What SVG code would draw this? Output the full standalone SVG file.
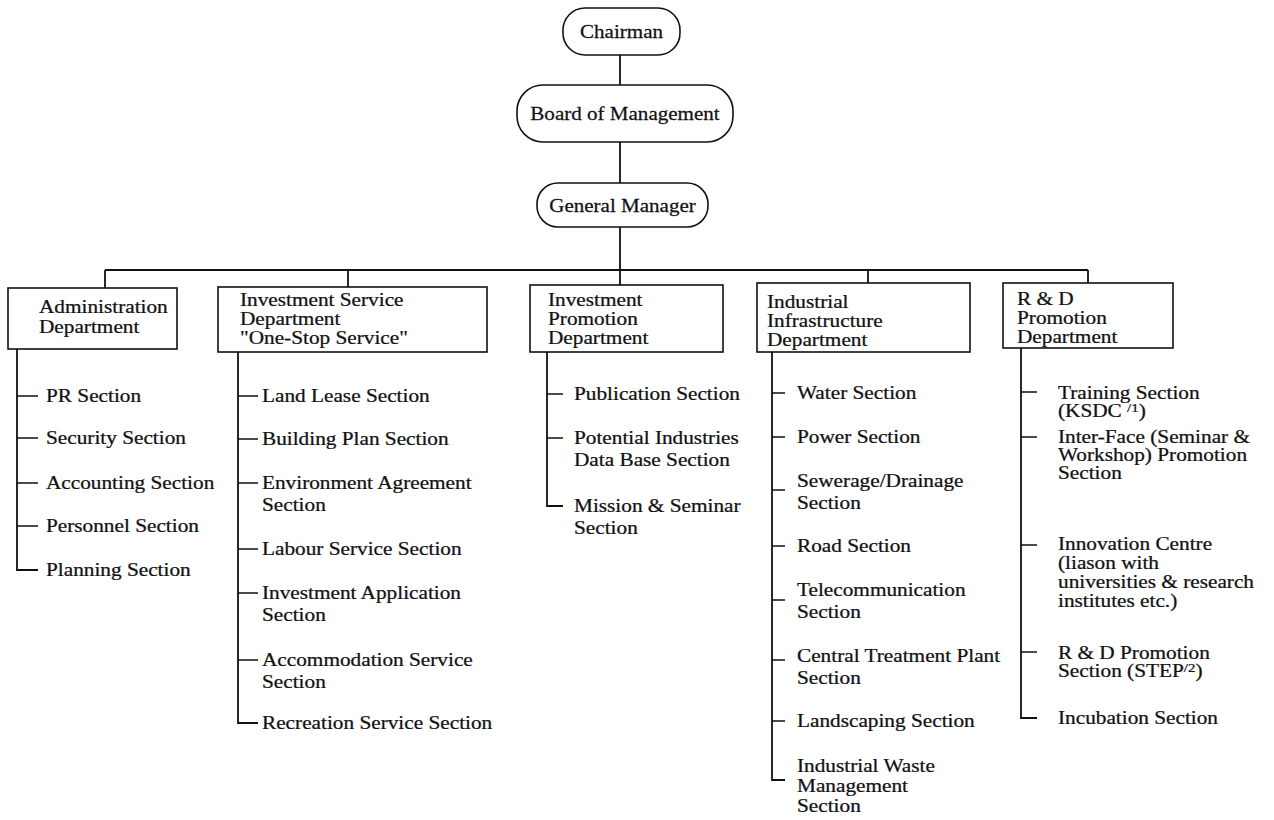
<svg xmlns="http://www.w3.org/2000/svg" width="1274" height="820" viewBox="0 0 1274 820">
<style>
  .bg{fill:#ffffff}
  .box{fill:#ffffff;stroke:#111;stroke-width:1.6}
  .ln{fill:none;stroke:#111;stroke-width:1.8}
  .tk{fill:none;stroke:#111;stroke-width:1.3}
  text{font-family:"Liberation Serif","Times New Roman",serif;fill:#111;stroke:#111;stroke-width:0.25}
  .top{font-size:19.5px}
  .s{font-size:18.5px}
  .sup{font-size:13px}
</style>
<rect class="bg" x="0" y="0" width="1274" height="820"/>

<g id="connectors">
  <path class="ln" d="M620 55V85"/>
  <path class="ln" d="M620 142V183"/>
  <path class="ln" d="M620 227V285"/>
  <path class="ln" d="M105 270H1088"/>
  <path class="ln" d="M105 270V288"/>
  <path class="ln" d="M348 270V287"/>
  <path class="ln" d="M868 270V283"/>
  <path class="ln" d="M1088 270V283"/>
  <!-- admin -->
  <path class="ln" d="M17 349V570H38"/>
  <path class="tk" d="M17 396H38M17 438H38M17 483H38M17 526H38"/>
  <!-- investment service -->
  <path class="ln" d="M238 352V723H258"/>
  <path class="tk" d="M238 396H258M238 439H258M238 483H258M238 549H258M238 593H258M238 660H258"/>
  <!-- investment promotion -->
  <path class="ln" d="M547 352V506H563"/>
  <path class="tk" d="M547 394H563M547 438H563"/>
  <!-- industrial infrastructure -->
  <path class="ln" d="M772 352V780H785"/>
  <path class="tk" d="M772 393H785M772 437H785M772 490H785M772 546H785M772 600H785M772 660H785M772 721H785"/>
  <!-- R&D -->
  <path class="ln" d="M1021 348V718H1037"/>
  <path class="tk" d="M1021 392H1037M1021 437H1037M1021 545H1037M1021 652H1037"/>
</g>

<g id="chairman">
  <rect class="box" x="563" y="8" width="117" height="47" rx="22"/>
  <text class="top" transform="translate(621.5,38) scale(1.08,1)" text-anchor="middle">Chairman</text>
</g>
<g id="board">
  <rect class="box" x="517" y="85" width="216" height="57" rx="26"/>
  <text class="top" transform="translate(625,120) scale(1.08,1)" text-anchor="middle">Board of Management</text>
</g>
<g id="general-manager">
  <rect class="box" x="537" y="183" width="171" height="44" rx="21"/>
  <text class="top" transform="translate(622.5,212) scale(1.08,1)" text-anchor="middle">General Manager</text>
</g>

<g id="dept-admin">
  <rect class="box" x="8" y="288" width="169" height="61"/>
  <text class="s" transform="translate(39,313) scale(1.15,1)"><tspan x="0">Administration</tspan><tspan x="0" dy="20">Department</tspan></text>
</g>
<g id="dept-investment-service">
  <rect class="box" x="218" y="287" width="269" height="65"/>
  <text class="s" transform="translate(240,306) scale(1.15,1)"><tspan x="0">Investment Service</tspan><tspan x="0" dy="19">Department</tspan><tspan x="0" dy="19">"One-Stop Service"</tspan></text>
</g>
<g id="dept-investment-promotion">
  <rect class="box" x="530" y="285" width="193" height="67"/>
  <text class="s" transform="translate(548,306) scale(1.15,1)"><tspan x="0">Investment</tspan><tspan x="0" dy="19">Promotion</tspan><tspan x="0" dy="19">Department</tspan></text>
</g>
<g id="dept-industrial-infrastructure">
  <rect class="box" x="757" y="283" width="213" height="69"/>
  <text class="s" transform="translate(767,308) scale(1.15,1)"><tspan x="0">Industrial</tspan><tspan x="0" dy="19">Infrastructure</tspan><tspan x="0" dy="19">Department</tspan></text>
</g>
<g id="dept-rd-promotion">
  <rect class="box" x="1003" y="283" width="170" height="65"/>
  <text class="s" transform="translate(1017,305) scale(1.15,1)"><tspan x="0">R &amp; D</tspan><tspan x="0" dy="19">Promotion</tspan><tspan x="0" dy="19">Department</tspan></text>
</g>

<g id="admin-sections">
  <text class="s" transform="translate(46,402) scale(1.15,1)">PR Section</text>
  <text class="s" transform="translate(46,444) scale(1.15,1)">Security Section</text>
  <text class="s" transform="translate(46,489) scale(1.15,1)">Accounting Section</text>
  <text class="s" transform="translate(46,532) scale(1.15,1)">Personnel Section</text>
  <text class="s" transform="translate(46,576) scale(1.15,1)">Planning Section</text>
</g>

<g id="investment-service-sections">
  <text class="s" transform="translate(262,402) scale(1.15,1)">Land Lease Section</text>
  <text class="s" transform="translate(262,445) scale(1.15,1)">Building Plan Section</text>
  <text class="s" transform="translate(262,489) scale(1.15,1)"><tspan x="0">Environment Agreement</tspan><tspan x="0" dy="22">Section</tspan></text>
  <text class="s" transform="translate(262,555) scale(1.15,1)">Labour Service Section</text>
  <text class="s" transform="translate(262,599) scale(1.15,1)"><tspan x="0">Investment Application</tspan><tspan x="0" dy="22">Section</tspan></text>
  <text class="s" transform="translate(262,666) scale(1.15,1)"><tspan x="0">Accommodation Service</tspan><tspan x="0" dy="22">Section</tspan></text>
  <text class="s" transform="translate(262,729) scale(1.15,1)">Recreation Service Section</text>
</g>

<g id="investment-promotion-sections">
  <text class="s" transform="translate(574,400) scale(1.15,1)">Publication Section</text>
  <text class="s" transform="translate(574,444) scale(1.15,1)"><tspan x="0">Potential Industries</tspan><tspan x="0" dy="22">Data Base Section</tspan></text>
  <text class="s" transform="translate(574,512) scale(1.15,1)"><tspan x="0">Mission &amp; Seminar</tspan><tspan x="0" dy="22">Section</tspan></text>
</g>

<g id="industrial-infrastructure-sections">
  <text class="s" transform="translate(797,399) scale(1.15,1)">Water Section</text>
  <text class="s" transform="translate(797,443) scale(1.15,1)">Power Section</text>
  <text class="s" transform="translate(797,487) scale(1.15,1)"><tspan x="0">Sewerage/Drainage</tspan><tspan x="0" dy="22">Section</tspan></text>
  <text class="s" transform="translate(797,552) scale(1.15,1)">Road Section</text>
  <text class="s" transform="translate(797,596) scale(1.15,1)"><tspan x="0">Telecommunication</tspan><tspan x="0" dy="22">Section</tspan></text>
  <text class="s" transform="translate(797,662) scale(1.15,1)"><tspan x="0">Central Treatment Plant</tspan><tspan x="0" dy="22">Section</tspan></text>
  <text class="s" transform="translate(797,727) scale(1.15,1)">Landscaping Section</text>
  <text class="s" transform="translate(797,772) scale(1.15,1)"><tspan x="0">Industrial Waste</tspan><tspan x="0" dy="20">Management</tspan><tspan x="0" dy="20">Section</tspan></text>
</g>

<g id="rd-promotion-sections">
  <text class="s" transform="translate(1058,399) scale(1.15,1)"><tspan x="0">Training Section</tspan><tspan x="0" dy="18">(KSDC </tspan><tspan class="sup" dy="-5">/1</tspan><tspan dy="5">)</tspan></text>
  <text class="s" transform="translate(1058,443) scale(1.15,1)"><tspan x="0">Inter-Face (Seminar &amp;</tspan><tspan x="0" dy="18">Workshop) Promotion</tspan><tspan x="0" dy="18">Section</tspan></text>
  <text class="s" transform="translate(1058,550) scale(1.15,1)"><tspan x="0">Innovation Centre</tspan><tspan x="0" dy="19">(liason with</tspan><tspan x="0" dy="19">universities &amp; research</tspan><tspan x="0" dy="19">institutes etc.)</tspan></text>
  <text class="s" transform="translate(1058,659) scale(1.15,1)"><tspan x="0">R &amp; D Promotion</tspan><tspan x="0" dy="18">Section (STEP</tspan><tspan class="sup" dy="-5">/2</tspan><tspan dy="5">)</tspan></text>
  <text class="s" transform="translate(1058,724) scale(1.15,1)">Incubation Section</text>
</g>
</svg>
